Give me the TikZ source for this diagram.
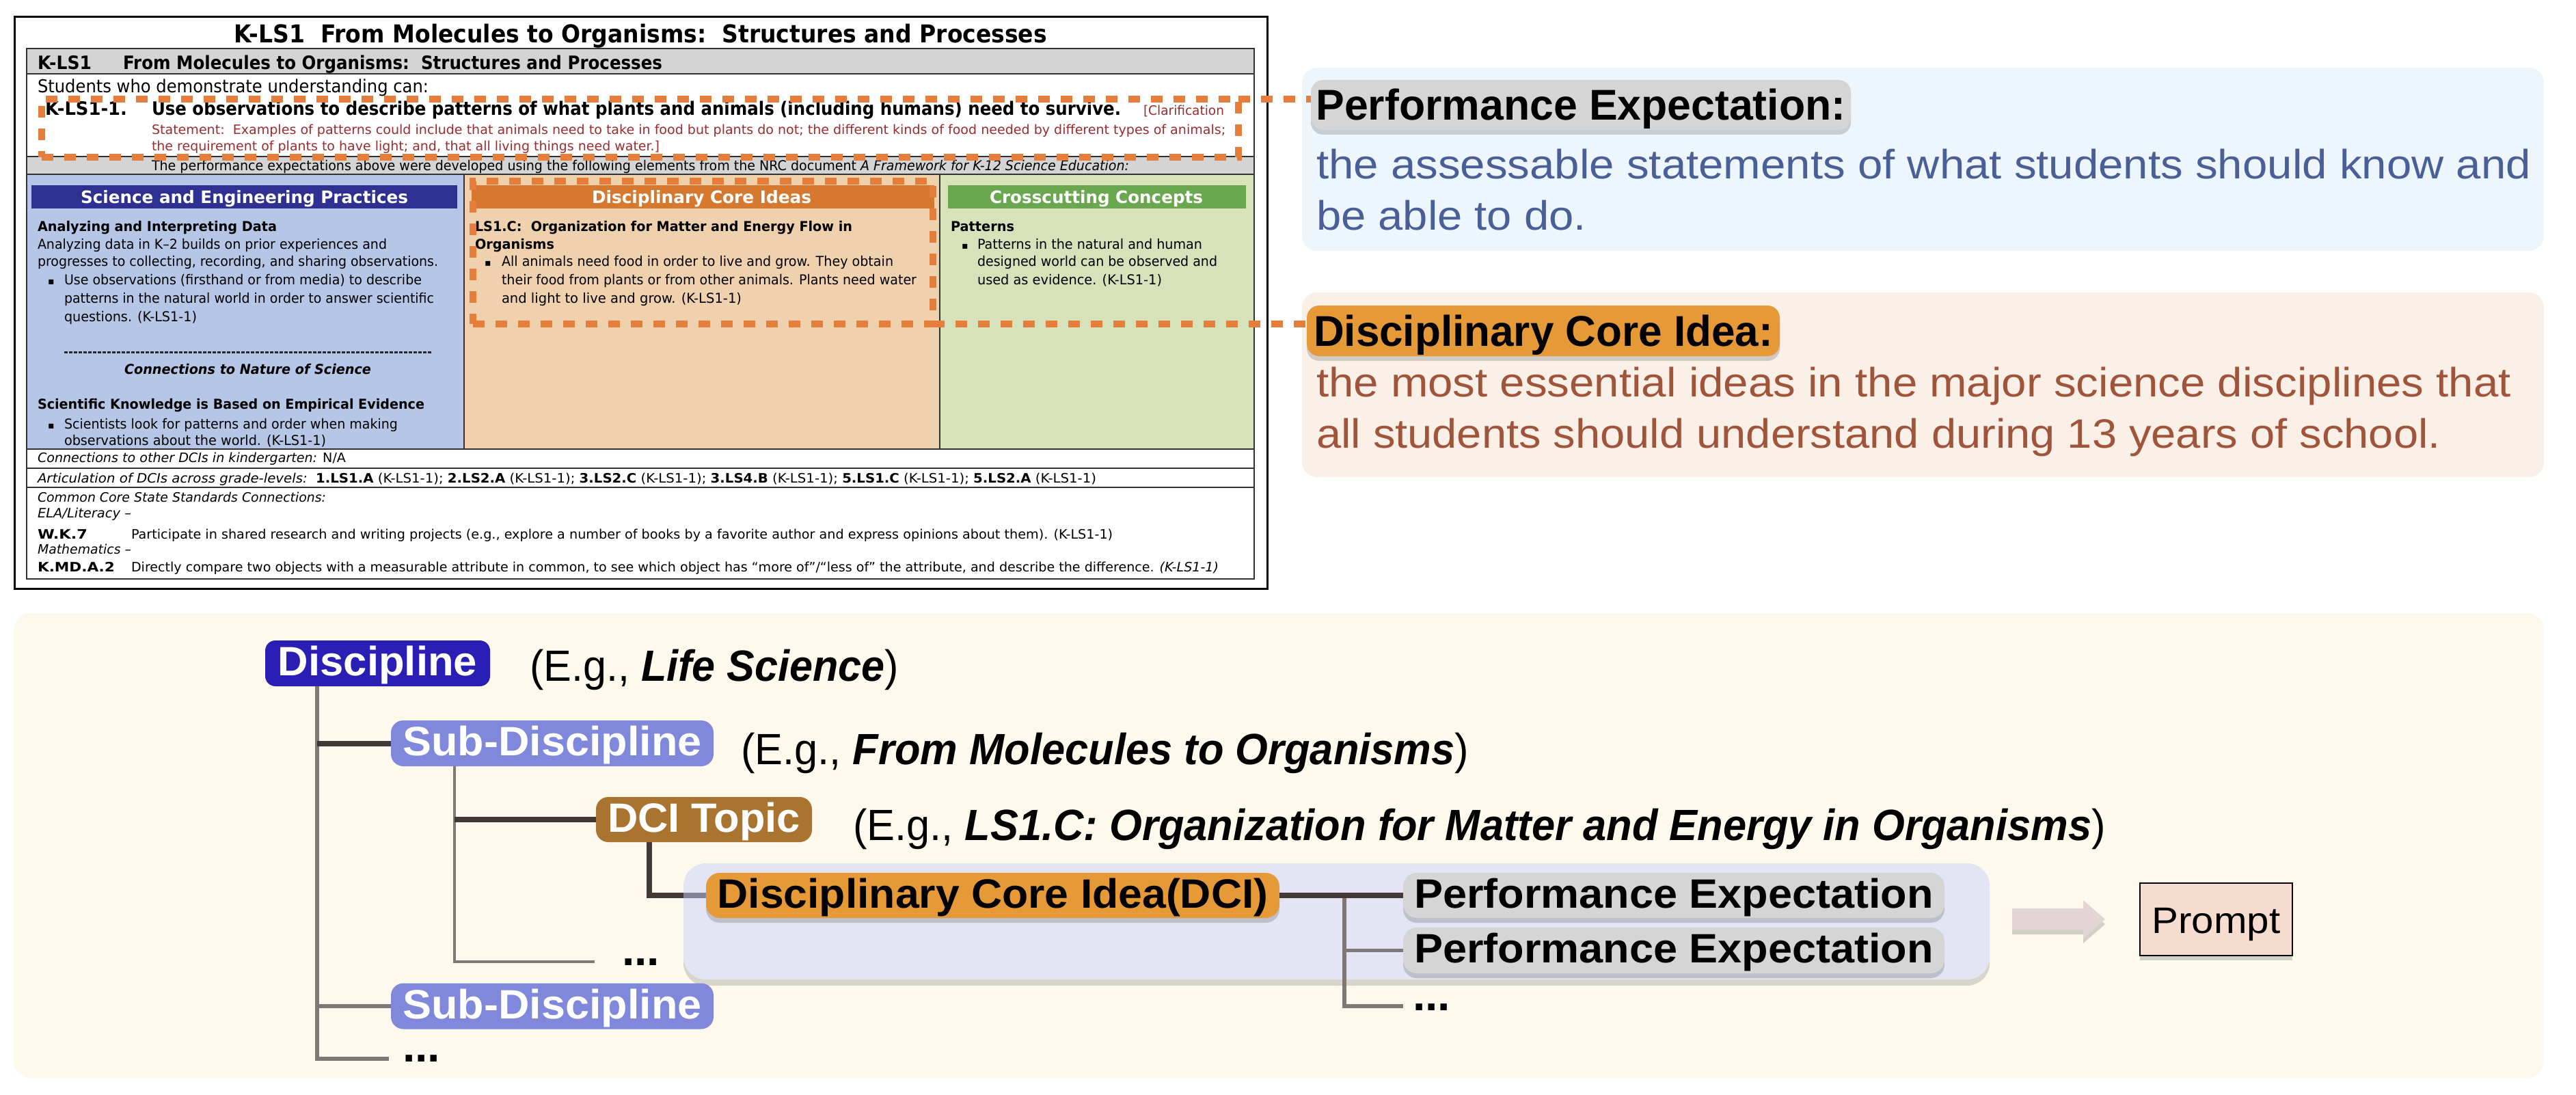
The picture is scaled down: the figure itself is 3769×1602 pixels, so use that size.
\documentclass[tikz,border=0pt]{standalone}
\usepackage{fontspec}
\usepackage{graphicx}
\setmainfont{Liberation Sans}
\newfontfamily\tabfont{DejaVu Sans}
\usetikzlibrary{shadows}
\pgfdeclarelayer{bg}
\pgfdeclarelayer{mid}
\pgfsetlayers{bg,mid,main}
\definecolor{cCream}{HTML}{FDF9EC}
\definecolor{cPEbg}{HTML}{EDF6FD}
\definecolor{cDCIbg}{HTML}{FAF0E8}
\definecolor{cLabGray}{HTML}{D5D5D5}
\definecolor{cOrange}{HTML}{E59A37}
\definecolor{cDisc}{HTML}{2B1EB4}
\definecolor{cSub}{HTML}{7F88DB}
\definecolor{cTopic}{HTML}{A8742F}
\definecolor{cDark}{HTML}{433836}
\definecolor{cGrayLine}{HTML}{807777}
\definecolor{cPrompt}{HTML}{F6DCCF}
\definecolor{cArrow}{HTML}{E3D5D5}
\definecolor{cPEtext}{HTML}{4A5E98}
\definecolor{cDCItext}{HTML}{A0543A}
\definecolor{cHL}{HTML}{E67E3B}
\definecolor{cLav}{HTML}{C8D0FE}
\definecolor{cBar}{HTML}{D4D4D4}
\definecolor{cColB}{HTML}{B5C6E6}
\definecolor{cColO}{HTML}{F0D1AD}
\definecolor{cColG}{HTML}{D7E2BA}
\definecolor{cHeadB}{HTML}{2E3192}
\definecolor{cHeadO}{HTML}{D6792F}
\definecolor{cHeadG}{HTML}{6AA84F}
\definecolor{cRed}{HTML}{9B2D2F}
\definecolor{cTline}{HTML}{333333}
\newcommand\tx[6]{\node[anchor=base west, inner sep=0pt, outer sep=0pt] (#1) at (#2,#3) {\resizebox{#4pt}{\height}{#5#6}};}
\newcommand\fbody{\tabfont\fontsize{20}{20}\selectfont}
\newcommand\fbold{\tabfont\bfseries\fontsize{20}{20}\selectfont}
\newcommand\flow{\tabfont\fontsize{19}{19}\selectfont}
\newcommand\fdesc{\fontsize{60}{60}\selectfont}
\newcommand\feg{\fontsize{64}{64}\selectfont}
\newcommand\bul[3]{\node[anchor=base west, inner sep=0pt] (#1) at (#2,#3) {\tabfont\fontsize{14}{14}\selectfont ▪};}
\tikzset{
  softshadow/.style={drop shadow={shadow xshift=0pt, shadow yshift=-7pt, opacity=0.22, fill=black!75}},
  treenode/.style={rectangle, rounded corners=15pt, inner sep=0pt, text height=42pt, text depth=6pt, minimum height=67pt, font=\fontsize{60}{60}\selectfont\bfseries},
  labelbox/.style={rectangle, rounded corners=18pt, inner sep=0pt, text height=44pt, text depth=0pt, font=\fontsize{63}{63}\selectfont\bfseries, softshadow},
  darkline/.style={draw=cDark, line width=8pt},
  greyline/.style={draw=cGrayLine, line width=5.5pt},
  hlbox/.style={draw=cHL, line width=10pt, dash pattern=on 17pt off 16pt},
  tline/.style={draw=cTline, line width=2pt},
  dotstext/.style={anchor=base west, inner sep=0pt, font=\fontsize{66}{66}\selectfont\bfseries}
}
\begin{document}
\begin{tikzpicture}[x=1pt,y=-1pt]
\begin{pgfonlayer}{bg}
\fill[white] (0,0) rectangle (3769,1602);
\end{pgfonlayer}
\useasboundingbox (0,0) rectangle (3769,1602);

% ---------------- standards table ----------------
\draw[line width=3pt, fill=white] (21,25) rectangle (1854,861);
\tx{title}{342}{63}{1190}{\tabfont\bfseries\fontsize{36}{36}\selectfont}{K-LS1\ \ From Molecules to Organisms:\ \ Structures and Processes}
\fill[cBar] (39,71) rectangle (1835,108);
\fill[cBar] (39,229) rectangle (1835,255);
\fill[cColB] (39,255) rectangle (679,657);
\fill[cColO] (679,255) rectangle (1375,657);
\fill[cColG] (1375,255) rectangle (1835,657);
\fill[cHeadB] (46,271) rectangle (669,305);
\fill[cHeadO] (690,271) rectangle (1367,305);
\fill[cHeadG] (1387,271) rectangle (1823,305);
\draw[tline] (39,71) rectangle (1835,847);
\draw[tline] (39,108) -- (1835,108);
\draw[tline] (39,229) -- (1835,229);
\draw[tline] (39,255) -- (1835,255);
\draw[tline, line width=1.5pt] (39,657) -- (1835,657);
\draw[tline] (39,685) -- (1835,685);
\draw[tline] (39,713) -- (1835,713);
\draw[tline, line width=1.2pt] (679,255) -- (679,657);
\draw[tline, line width=1.2pt] (1375,255) -- (1375,657);

\tx{hdA}{55}{102}{79}{\tabfont\bfseries\fontsize{27}{27}\selectfont}{K-LS1}
\tx{hdB}{180}{102}{789}{\tabfont\bfseries\fontsize{27}{27}\selectfont}{From Molecules to Organisms:\ \ Structures and Processes}
\tx{stud}{55}{136}{572}{\tabfont\fontsize{26}{26}\selectfont}{Students who demonstrate understanding can:}
\tx{peid}{66}{169}{120}{\tabfont\bfseries\fontsize{27}{27}\selectfont}{K-LS1-1.}
\tx{pest}{222}{169}{1418}{\tabfont\bfseries\fontsize{27}{27}\selectfont}{Use observations to describe patterns of what plants and animals (including humans) need to survive.}
\tx{clA}{1673}{169}{118}{\tabfont\fontsize{19}{19}\selectfont\color{cRed}}{[Clarification}
\tx{clB}{222}{197}{1571}{\tabfont\fontsize{19}{19}\selectfont\color{cRed}}{Statement:\ \ Examples of patterns could include that animals need to take in food but plants do not; the different kinds of food needed by different types of animals;}
\tx{clC}{222}{221}{743}{\tabfont\fontsize{19}{19}\selectfont\color{cRed}}{the requirement of plants to have light; and, that all living things need water.]}
\tx{perf}{222}{250}{1430}{\tabfont\fontsize{20}{20}\selectfont}{The performance expectations above were developed using the following elements from the NRC document \textit{A Framework for K-12 Science Education:}}

\tx{hSEP}{118}{298}{479}{\tabfont\bfseries\fontsize{25}{25}\selectfont\color{white}}{Science and Engineering Practices}
\tx{hDCI}{866}{298}{321}{\tabfont\bfseries\fontsize{25}{25}\selectfont\color{white}}{Disciplinary Core Ideas}
\tx{hCC}{1448}{298}{312}{\tabfont\bfseries\fontsize{25}{25}\selectfont\color{white}}{Crosscutting Concepts}

% blue column
\tx{bA}{55}{339}{350}{\fbold}{Analyzing and Interpreting Data}
\tx{bB}{55}{365}{511}{\fbody}{Analyzing data in K–2 builds on prior experiences and}
\tx{bC}{55}{390}{586}{\fbody}{progresses to collecting, recording, and sharing observations.}
\bul{bu1}{70}{417}
\tx{bD}{94}{417}{523}{\fbody}{Use observations (firsthand or from media) to describe}
\tx{bE}{94}{443}{541}{\fbody}{patterns in the natural world in order to answer scientific}
\tx{bF}{94}{470}{194}{\fbody}{questions. (K-LS1-1)}
\draw[black!85, line width=3pt, dash pattern=on 5pt off 2pt] (94,515) -- (632,515);
\tx{bG}{182}{547}{361}{\fbold\itshape}{Connections to Nature of Science}
\tx{bH}{55}{598}{566}{\fbold}{Scientific Knowledge is Based on Empirical Evidence}
\bul{bu2}{70}{627}
\tx{bI}{94}{627}{488}{\fbody}{Scientists look for patterns and order when making}
\tx{bJ}{94}{651}{383}{\fbody}{observations about the world. (K-LS1-1)}

% orange column
\tx{oA}{695}{339}{552}{\fbold}{LS1.C:\ \ Organization for Matter and Energy Flow in}
\tx{oB}{695}{365}{116}{\fbold}{Organisms}
\bul{bu3}{709}{390}
\tx{oC}{734}{390}{573}{\fbody}{All animals need food in order to live and grow. They obtain}
\tx{oD}{734}{417}{607}{\fbody}{their food from plants or from other animals. Plants need water}
\tx{oE}{734}{443}{351}{\fbody}{and light to live and grow. (K-LS1-1)}

% green column
\tx{gA}{1391}{339}{93}{\fbold}{Patterns}
\bul{bu4}{1407}{365}
\tx{gB}{1430}{365}{329}{\fbody}{Patterns in the natural and human}
\tx{gC}{1430}{390}{351}{\fbody}{designed world can be observed and}
\tx{gD}{1430}{417}{270}{\fbody}{used as evidence. (K-LS1-1)}

% lower rows
\tx{conn}{55}{676}{451}{\flow}{\textit{Connections to other DCIs in kindergarten:} N/A}
\tx{artic}{55}{706}{1549}{\flow}{\textit{Articulation of DCIs across grade-levels:}\ \ \textbf{1.LS1.A} (K-LS1-1); \textbf{2.LS2.A} (K-LS1-1); \textbf{3.LS2.C} (K-LS1-1); \textbf{3.LS4.B} (K-LS1-1); \textbf{5.LS1.C} (K-LS1-1); \textbf{5.LS2.A} (K-LS1-1)}
\tx{ccss}{55}{734}{422}{\flow}{\textit{Common Core State Standards Connections:}}
\tx{ela}{55}{757}{137}{\flow}{\textit{ELA/Literacy –}}
\tx{wk}{55}{788}{73}{\flow\bfseries}{W.K.7}
\tx{wkt}{192}{788}{1436}{\flow}{Participate in shared research and writing projects (e.g., explore a number of books by a favorite author and express opinions about them). (K-LS1-1)}
\tx{math}{55}{810}{137}{\flow}{\textit{Mathematics –}}
\tx{kmd}{55}{836}{113}{\flow\bfseries}{K.MD.A.2}
\tx{kmdt}{192}{836}{1591}{\flow}{Directly compare two objects with a measurable attribute in common, to see which object has “more of”/“less of” the attribute, and describe the difference. \textit{(K-LS1-1)}}

% ---------------- right panels ----------------
\fill[cPEbg, rounded corners=22pt] (1905,99) rectangle (3722,367);
\fill[cDCIbg, rounded corners=22pt] (1905,428) rectangle (3722,698);
\node[labelbox, fill=cLabGray, minimum width=790pt, minimum height=73pt] (pelabel) at (2313,153.5) {\resizebox{775pt}{\height}{Performance Expectation:}};
\node[labelbox, fill=cOrange, minimum width=692pt, minimum height=74pt] (dcilabel) at (2258,484) {\resizebox{672pt}{\height}{Disciplinary Core Idea:}};
\tx{ped1}{1926}{262}{1777}{\fdesc\color{cPEtext}}{the assessable statements of what students should know and}
\tx{ped2}{1926}{337}{395}{\fdesc\color{cPEtext}}{be able to do.}
\tx{dcd1}{1926}{580}{1748}{\fdesc\color{cDCItext}}{the most essential ideas in the major science disciplines that}
\tx{dcd2}{1926}{655}{1645}{\fdesc\color{cDCItext}}{all students should understand during 13 years of school.}

% highlight boxes and their leaders
\node[hlbox, rectangle, inner sep=0pt, outer sep=0pt, minimum width=1751pt, minimum height=85pt] (pehl) at (936.5,187.5) {};
\node[hlbox, rectangle, inner sep=0pt, outer sep=0pt, minimum width=673pt, minimum height=209pt] (dcihl) at (1028.5,369.5) {};
\draw[hlbox] (pehl.north east) -- (pehl.north east -| pelabel.west);
\draw[hlbox] (dcihl.south east) -- (dcihl.south east -| dcilabel.west);

% ---------------- tree ----------------
\node[treenode, fill=cDisc, text=white, minimum width=329pt] (disc) at (552.5,970.5) {\resizebox{291pt}{\height}{Discipline}};
\node[treenode, fill=cSub, text=white, minimum width=472pt, rounded corners=18pt] (sub1) at (808,1087.5) {\resizebox{437pt}{\height}{Sub-Discipline}};
\node[treenode, fill=cSub, text=white, minimum width=472pt, rounded corners=18pt] (sub2) at (808,1472) {\resizebox{437pt}{\height}{Sub-Discipline}};
\node[treenode, fill=cTopic, text=white, minimum width=316pt, minimum height=66pt, rounded corners=18pt] (topic) at (1030,1199) {\resizebox{282pt}{\height}{DCI Topic}};
\node[treenode, fill=cOrange, text=black, minimum width=839pt, minimum height=66pt, rounded corners=20pt, softshadow] (dci) at (1452.5,1310) {\resizebox{806pt}{\height}{Disciplinary Core Idea(DCI)}};
\node[treenode, fill=cLabGray, text=black, minimum width=792pt, minimum height=66pt, rounded corners=20pt, softshadow] (pe1) at (2449,1310) {\resizebox{760pt}{\height}{Performance Expectation}};
\node[treenode, fill=cLabGray, text=black, minimum width=792pt, minimum height=67pt, rounded corners=20pt, softshadow] (pe2) at (2449,1390.5) {\resizebox{760pt}{\height}{Performance Expectation}};
\node[draw=black, line width=2.5pt, fill=cPrompt, minimum width=223pt, minimum height=106pt, inner sep=0pt, text height=40pt, text depth=0pt, softshadow] (prompt) at (3242.5,1345) {\resizebox{188pt}{\height}{\fontsize{54}{54}\selectfont Prompt}};

\tx{egA}{775}{996}{540}{\feg}{(E.g., \textbf{\textit{Life Science}})}
\tx{egB}{1084}{1118}{1065}{\feg}{(E.g., \textbf{\textit{From Molecules to Organisms}})}
\tx{egC}{1248}{1229}{1833}{\feg}{(E.g., \textbf{\textit{LS1.C: Organization for Matter and Energy in Organisms}})}

\node[dotstext] (dotsA) at (589,1553) {...};
\node[dotstext] (dotsB) at (910,1412) {...};
\node[dotstext] (dotsC) at (2067,1478) {...};

\coordinate (trunkA) at ([xshift=76pt]disc.south west);
\coordinate (trunkB) at ([xshift=93pt]sub1.south west);
\coordinate (trunkC) at ([xshift=95pt]dci.east);
\coordinate (endA) at (569,1549);
\coordinate (endB) at (870,1407);
\coordinate (endC) at (2053,1472);

\begin{pgfonlayer}{bg}
\fill[cCream, rounded corners=25pt] (20,897) rectangle (3722,1577);
\path[fill=cCream, rounded corners=33pt, drop shadow={shadow xshift=0pt, shadow yshift=-9pt, opacity=0.18, fill=black!80}] (1000,1263) rectangle (2911,1433);
\draw[darkline] ([xshift=78pt]topic.south west) |- (dci.west);
\end{pgfonlayer}
\begin{pgfonlayer}{mid}
\fill[cLav, opacity=0.49, rounded corners=33pt] (1000,1263) rectangle (2911,1433);
\end{pgfonlayer}

\draw[greyline] (trunkA) |- (endA);
\draw[greyline] (trunkA |- sub2.west) -- (sub2.west);
\draw[darkline] (trunkA |- sub1.west) -- (sub1.west);
\draw[greyline, line width=4.5pt] (trunkB) |- (endB);
\draw[darkline] (trunkB |- topic.west) -- (topic.west);
\draw[greyline] (trunkC) |- (endC);
\draw[greyline] (trunkC |- pe2.west) -- (pe2.west);
\draw[darkline] (dci.east) -- (pe1.west);

\fill[cArrow, softshadow] (2944,1329) -- (3048,1329) -- (3048,1317) -- (3080,1345) -- (3048,1373) -- (3048,1360) -- (2944,1360) -- cycle;
\end{tikzpicture}
\end{document}
